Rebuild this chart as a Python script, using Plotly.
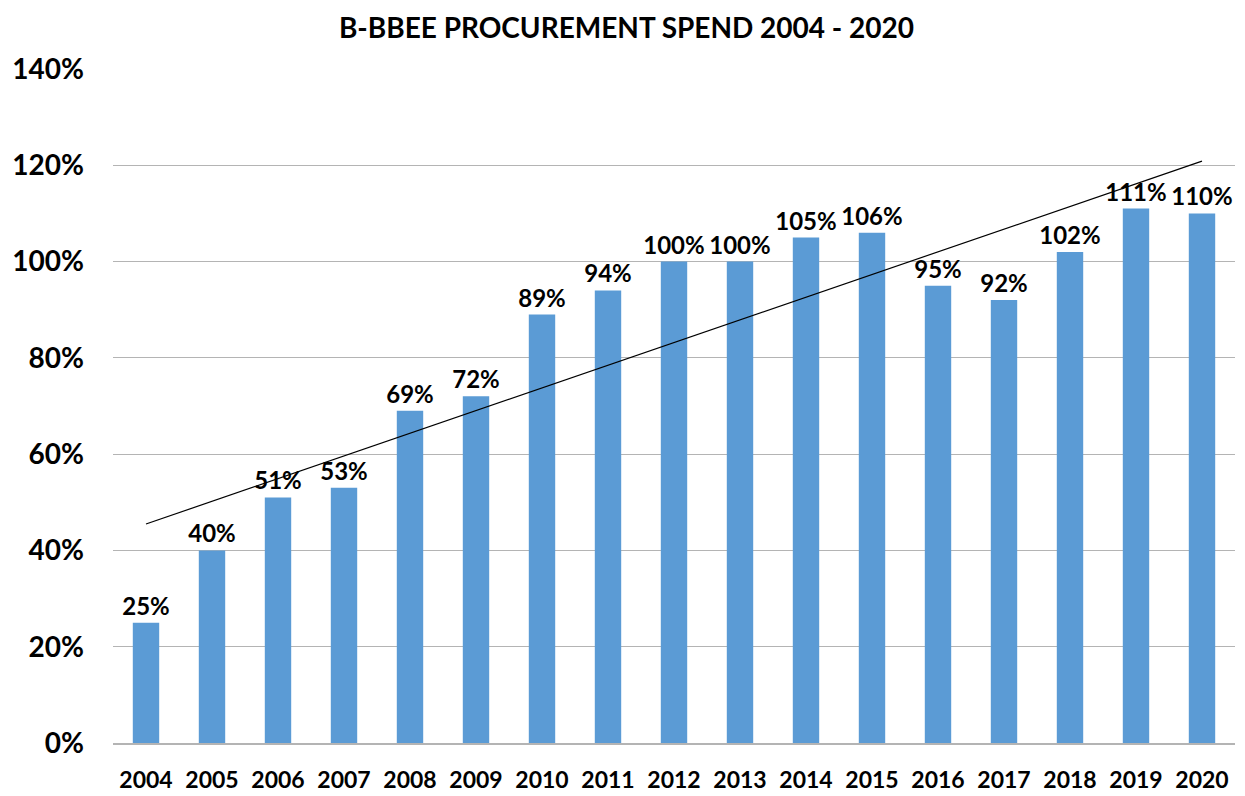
import numpy as np
import plotly.graph_objects as go

years = ["2004", "2005", "2006", "2007", "2008", "2009", "2010", "2011", "2012",
         "2013", "2014", "2015", "2016", "2017", "2018", "2019", "2020"]
spend = [25, 40, 51, 53, 69, 72, 89, 94, 100, 100, 105, 106, 95, 92, 102, 111, 110]
labels = [f"{v}%" for v in spend]
y_ticks = [0, 20, 40, 60, 80, 100, 120, 140]
y_tick_text = [f"{v}%" for v in y_ticks]

# Linear trendline (least squares fit, as in the spreadsheet trendline)
idx = np.arange(len(spend))
slope, intercept = np.polyfit(idx, spend, 1)
trend = list(slope * idx + intercept)

FONT = "Lato"

fig = go.Figure()
fig.add_trace(go.Bar(
    x=years, y=spend,
    marker=dict(color="#5B9BD5", line=dict(width=0)),
    text=labels, textposition="outside", constraintext="none",
    textfont=dict(family=FONT, size=24, color="#000000", weight="bold"),
    cliponaxis=False,
    showlegend=False,
))
fig.add_trace(go.Scatter(
    x=years, y=trend, mode="lines",
    line=dict(color="#000000", width=1.2),
    showlegend=False, hoverinfo="skip",
))

fig.update_layout(
    width=1237, height=788,
    paper_bgcolor="white", plot_bgcolor="white",
    margin=dict(l=105, r=10, t=61, b=53, autoexpand=False),
    bargap=0.6,
    title=dict(text="B-BBEE PROCUREMENT SPEND 2004 - 2020", x=0.5, xanchor="center",
               y=0.975, yanchor="middle",
               font=dict(family=FONT, size=28, color="#000000", weight="bold")),
    xaxis=dict(
        type="category", automargin=False,
        tickfont=dict(family=FONT, size=23, color="#000000", weight="bold"),
        showgrid=False, showline=True, linecolor="#b4b4b4", linewidth=1.5,
        ticks="", ticklabelstandoff=16,
    ),
    yaxis=dict(
        range=[0, 140], tickvals=y_ticks, ticktext=y_tick_text, automargin=False,
        tickfont=dict(family=FONT, size=28, color="#000000", weight="bold"),
        showgrid=True, gridcolor="#b4b4b4", gridwidth=1,
        zeroline=False, showline=False, ticks="",
        ticklabelstandoff=28,
    ),
)

fig.write_html("out.html")
